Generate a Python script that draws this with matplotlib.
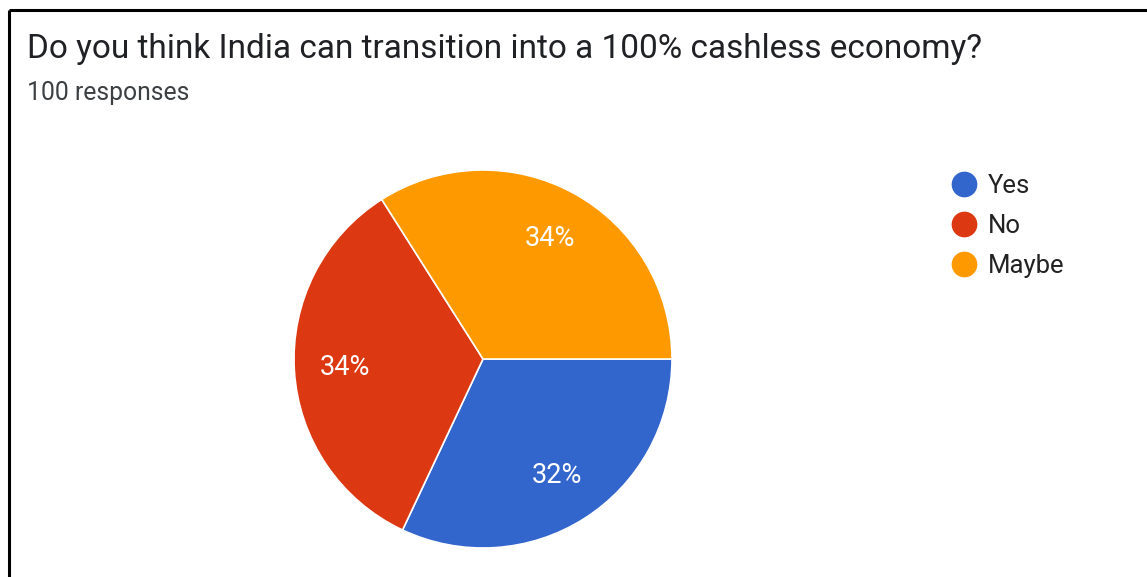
import matplotlib.pyplot as plt
from matplotlib.lines import Line2D

title = 'Do you think India can transition into a 100% cashless economy?'
subtitle = '100 responses'
labels = ['Yes', 'No', 'Maybe']
shares = [32, 34, 34]
colors = ['#3366CC', '#DC3912', '#FF9900']

W, H = 1147, 577
fig = plt.figure(figsize=(W / 100, H / 100), dpi=100)
plt.rcParams['font.family'] = ['Roboto', 'DejaVu Sans']

# pixel-space axes over the whole canvas
ax = fig.add_axes([0, 0, 1, 1])
wedges, texts, autotexts = ax.pie(
    shares, colors=colors, startangle=0, counterclock=False,
    center=(483, H - 359), radius=189, autopct='%d%%', pctdistance=0.73,
    wedgeprops={'edgecolor': 'white', 'linewidth': 1.2},
    textprops={'color': 'white', 'fontsize': 19.5})
ax.set_xlim(0, W)
ax.set_ylim(0, H)
ax.set_aspect('auto')
ax.axis('off')

# frame lines on the top and left
ax.plot([8.5, W], [H - 9.5, H - 9.5], color='black', lw=2.2, solid_capstyle='butt')
ax.plot([8.5, 8.5], [0, H - 9.5], color='black', lw=2.2, solid_capstyle='butt')

ax.text(27, H - 58, title, fontsize=24, color='#202124', va='baseline')
ax.text(27, H - 100, subtitle, fontsize=17.8, color='#3c4043', va='baseline')

handles = [Line2D([], [], marker='o', linestyle='none', markersize=17.5,
                  markerfacecolor=c, markeredgecolor=c) for c in colors]
leg = ax.legend(handles, labels, loc='upper left', bbox_to_anchor=(952 / W, 1 - 174 / H),
                frameon=False, fontsize=18.5, handletextpad=0.47, labelspacing=0.62,
                handlelength=0.93, borderpad=0, borderaxespad=0)
for t in leg.get_texts():
    t.set_color('#222222')

fig.savefig('out.png', dpi=100)
